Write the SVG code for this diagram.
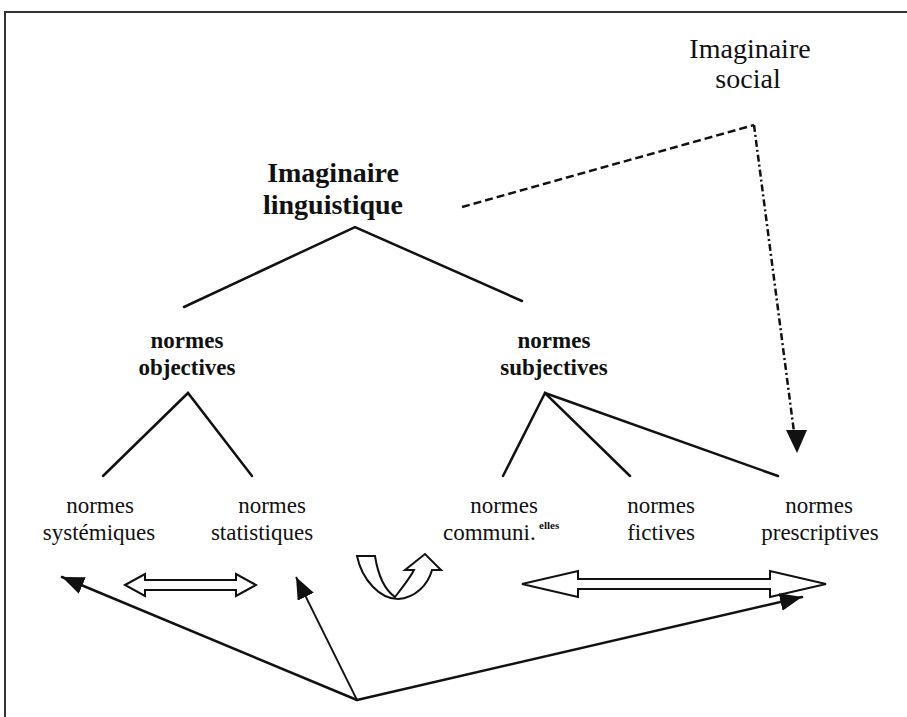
<svg xmlns="http://www.w3.org/2000/svg" width="907" height="717" viewBox="0 0 907 717">
<style>
  text { font-family: "Liberation Serif", "Times New Roman", serif; fill: #111; text-anchor: middle; }
  .reg { font-size: 23px; }
  .bold { font-weight: bold; }
  .big { font-size: 28px; }
  .mid { font-size: 23px; }
  .line { stroke: #111; stroke-width: 2.5; fill: none; stroke-linecap: round; }
  .thin { stroke: #111; stroke-width: 1.8; fill: none; }
  .hollow { fill: #fff; stroke: #111; stroke-width: 2; stroke-linejoin: miter; }
</style>
<defs>
  <marker id="head" markerUnits="userSpaceOnUse" markerWidth="24" markerHeight="20" refX="22" refY="9" orient="auto">
    <path d="M0,0 L22,9 L0,18 Z" fill="#111"/>
  </marker>
</defs>
<rect width="907" height="717" fill="#fff"/>
<path d="M5,717 L5,12 L907,12" fill="none" stroke="#333" stroke-width="2"/>

<g id="imaginaire-social">
  <text class="big" x="750" y="58">Imaginaire</text>
  <text class="big" x="748" y="88">social</text>
</g>
<g id="imaginaire-linguistique">
  <text class="big bold" x="333" y="182">Imaginaire</text>
  <text class="big bold" x="333" y="214">linguistique</text>
</g>
<g id="normes-objectives">
  <text class="mid bold" x="187" y="348">normes</text>
  <text class="mid bold" x="187" y="375">objectives</text>
</g>
<g id="normes-subjectives">
  <text class="mid bold" x="554" y="348">normes</text>
  <text class="mid bold" x="554" y="375">subjectives</text>
</g>
<g id="normes-systemiques">
  <text class="reg" x="100" y="513">normes</text>
  <text class="reg" x="99" y="540">systémiques</text>
</g>
<g id="normes-statistiques">
  <text class="reg" x="272" y="513">normes</text>
  <text class="reg" x="262" y="540">statistiques</text>
</g>
<g id="normes-communielles">
  <text class="reg" x="504" y="513">normes</text>
  <text class="reg" x="443" y="540" style="text-anchor:start">communi.</text>
  <text x="539" y="529" style="text-anchor:start;font-size:11px;font-weight:bold">elles</text>
</g>
<g id="normes-fictives">
  <text class="reg" x="661" y="513">normes</text>
  <text class="reg" x="661" y="540">fictives</text>
</g>
<g id="normes-prescriptives">
  <text class="reg" x="819" y="513">normes</text>
  <text class="reg" x="820" y="540">prescriptives</text>
</g>

<g id="connectors">
  <polyline class="line" points="184,307 355,227 522,301"/>
  <polyline class="line" points="103,476 188,393 252,476"/>
  <polyline class="line" points="503,476 545,393 630,476"/>
  <line class="line" x1="545" y1="393" x2="778" y2="476"/>
  <line x1="462" y1="207" x2="754" y2="125" stroke="#111" stroke-width="2.5" stroke-dasharray="8,4"/>
  <line x1="754" y1="125" x2="794" y2="432" stroke="#111" stroke-width="2.5" stroke-dasharray="7,3,2,3"/>
  <path d="M786,430 L807,430 L797,453 Z" fill="#111"/>
  <polygon class="hollow" points="125,585 145,574 145,580 236,580 236,574 256,585 236,596 236,590 145,590 145,596"/>
  <polygon class="hollow" points="522,584 578,571 578,579 770,579 770,571 826,584 770,597 770,589 578,589 578,597"/>
  <path class="hollow" d="M357,556 L375,556 C378,575 385,590 395,597 C402,588 410,578 414,570 L405,570 L425,554 L441,570 L432,570 C428,585 415,598 398,599 C380,599 362,580 357,556 Z"/>
  <line class="line" x1="357" y1="700" x2="62" y2="577" marker-end="url(#head)"/>
  <line class="thin" x1="357" y1="700" x2="296" y2="577" marker-end="url(#head)"/>
  <line class="line" x1="357" y1="700" x2="802" y2="597" marker-end="url(#head)"/>
</g>
</svg>
